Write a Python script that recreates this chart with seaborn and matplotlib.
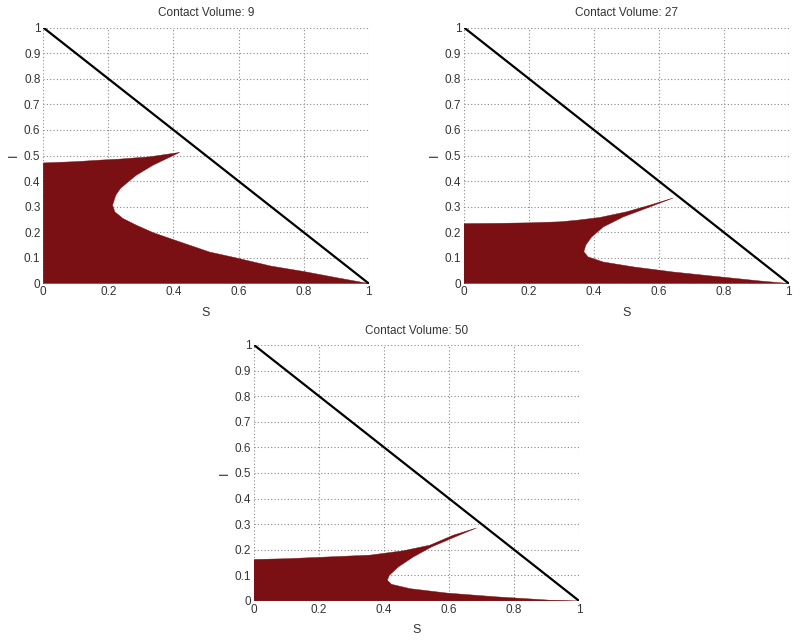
import matplotlib
matplotlib.use("Agg")
import matplotlib.pyplot as plt
import seaborn as sns
import pandas as pd

sns.set_style("white")
plt.rcParams['font.family'] = ['Liberation Sans', 'DejaVu Sans']

titles = ["Contact Volume: 9", "Contact Volume: 27", "Contact Volume: 50"]

# boundary of the filled region (S, I), traced from (1,0) along the lower branch,
# round the nose to the tip, back along the top edge to the I axis, then to the origin
s_cv9 = [1.0, 0.9, 0.8, 0.7, 0.593, 0.511, 0.419, 0.337, 0.286, 0.245, 0.220, 0.213,
         0.223, 0.237, 0.261, 0.286, 0.337, 0.419,
         0.327, 0.235, 0.174, 0.1, 0.0, 0.0]
i_cv9 = [0.0, 0.023, 0.047, 0.068, 0.100, 0.123, 0.163, 0.199, 0.228, 0.254, 0.280, 0.306,
         0.345, 0.371, 0.397, 0.423, 0.462, 0.512,
         0.495, 0.486, 0.482, 0.476, 0.471, 0.0]

s_cv27 = [1.0, 0.911, 0.788, 0.644, 0.521, 0.429, 0.382, 0.369, 0.375, 0.393, 0.429, 0.49,
          0.572, 0.644,
          0.572, 0.5, 0.418, 0.347, 0.295, 0.2, 0.1, 0.0, 0.0]
i_cv27 = [0.0, 0.010, 0.026, 0.045, 0.065, 0.084, 0.104, 0.124, 0.150, 0.182, 0.221, 0.260,
          0.299, 0.334,
          0.306, 0.280, 0.258, 0.247, 0.241, 0.237, 0.235, 0.234, 0.0]

s_cv50 = [1.0, 0.91, 0.746, 0.592, 0.48, 0.423, 0.41, 0.416, 0.444, 0.49, 0.546, 0.618,
          0.684,
          0.613, 0.541, 0.459, 0.357, 0.193, 0.1, 0.0, 0.0]
i_cv50 = [0.0, 0.003, 0.016, 0.031, 0.048, 0.065, 0.081, 0.100, 0.133, 0.172, 0.211, 0.250,
          0.285,
          0.257, 0.218, 0.196, 0.179, 0.170, 0.165, 0.162, 0.0]

# the line S + I = 1
line_s = [0.0, 1.0]
line_i = [1.0, 0.0]

ticks_s = [0, 0.2, 0.4, 0.6, 0.8, 1]
ticks_i = [0, 0.1, 0.2, 0.3, 0.4, 0.5, 0.6, 0.7, 0.8, 0.9, 1]
ticklabels_s = ["0", "0.2", "0.4", "0.6", "0.8", "1"]
ticklabels_i = ["0", "0.1", "0.2", "0.3", "0.4", "0.5", "0.6", "0.7", "0.8", "0.9", "1"]

regions = [(s_cv9, i_cv9), (s_cv27, i_cv27), (s_cv50, i_cv50)]

fig = plt.figure(figsize=(8, 6.4), dpi=100)
positions = [
    [0.054, 0.557, 0.407, 0.400],
    [0.580, 0.557, 0.406, 0.400],
    [0.3175, 0.061, 0.4065, 0.400],
]

fill_color = "#7A1014"
text_color = "#333333"

for pos, title, (sv, iv) in zip(positions, titles, regions):
    ax = fig.add_axes(pos)
    ax.set_axisbelow(True)
    ax.fill(sv, iv, color=fill_color, linewidth=0.3, edgecolor=fill_color,
            joinstyle="round", zorder=1)
    df = pd.DataFrame({"S": line_s, "I": line_i})
    sns.lineplot(data=df, x="S", y="I", color="black", linewidth=1.6, ax=ax,
                 sort=False, estimator=None, zorder=3)
    ax.set_xlim(0, 1)
    ax.set_ylim(0, 1)
    ax.set_xticks(ticks_s)
    ax.set_xticklabels(ticklabels_s)
    ax.set_yticks(ticks_i)
    ax.set_yticklabels(ticklabels_i)
    ax.grid(True, linestyle=(0, (1, 2)), color="#888888", linewidth=0.8)
    for sp in ax.spines.values():
        sp.set_visible(False)
    ax.tick_params(axis="both", length=0, pad=2, labelsize=8.5, labelcolor=text_color)
    ax.set_xlabel("S", fontsize=9, color=text_color, labelpad=6)
    ax.set_ylabel("I", fontsize=9, color=text_color, labelpad=3)
    ax.set_title(title, fontsize=8.5, color=text_color, pad=8)

fig.savefig("out.png", dpi=100)
